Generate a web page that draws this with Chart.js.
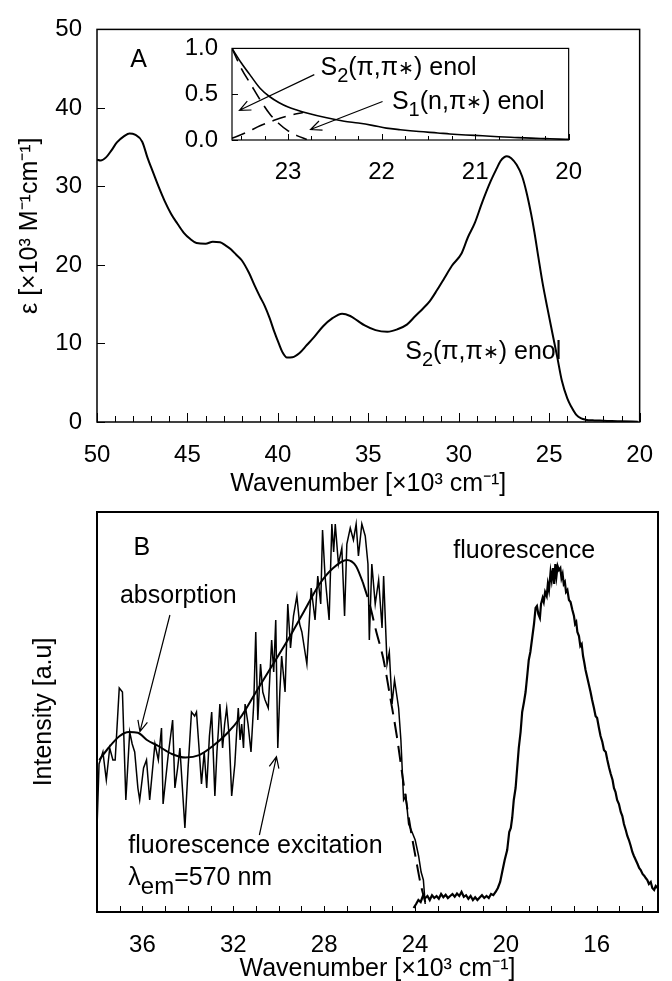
<!DOCTYPE html>
<html>
<head>
<meta charset="utf-8">
<script src="https://cdn.jsdelivr.net/npm/chart.js@4.4.1/dist/chart.umd.min.js"></script>
<style>
  html, body { margin: 0; padding: 0; background: #fff; overflow: hidden; }
  #wrap { position: relative; width: 672px; height: 981px; }
  canvas { position: absolute; }
</style>
</head>
<body>
<div id="wrap">
  <canvas id="specA" width="672" height="500" style="left:0;top:0"></canvas>
  <canvas id="inset" width="450" height="180" style="left:150px;top:20px"></canvas>
  <canvas id="specB" width="672" height="490" style="left:0;top:500px"></canvas>
</div>
<script>
// ---- panel A: extinction coefficient (x = wavenumber /1000 cm-1, y = eps /1000) ----
const epsA = [
  [50.0, 33.4], [49.8, 33.3], [49.5, 33.7], [49.2, 34.6], [48.9, 35.6], [48.5, 36.4],
  [48.2, 36.75], [47.9, 36.6], [47.5, 35.7], [47.2, 33.6], [47.0, 32.4], [46.6, 30.0],
  [46.27, 28.2], [45.9, 26.5], [45.55, 25.25], [45.2, 24.1], [44.84, 23.3], [44.5, 22.8],
  [44.0, 22.7], [43.6, 22.95], [43.2, 22.9], [42.9, 22.5], [42.6, 22.0], [42.3, 21.3],
  [42.0, 20.6], [41.6, 19.0], [41.27, 17.3], [41.0, 16.0], [40.73, 14.8], [40.45, 13.2],
  [40.2, 11.5], [39.95, 10.0], [39.75, 8.9], [39.5, 8.2], [39.2, 8.25], [38.8, 8.8],
  [38.4, 9.8], [38.0, 10.8], [37.5, 12.2], [37.0, 13.2], [36.45, 13.8], [36.0, 13.5],
  [35.6, 12.9], [35.2, 12.3], [34.6, 11.7], [33.95, 11.5], [33.4, 11.8], [32.87, 12.4],
  [32.4, 13.5], [32.0, 14.4], [31.6, 15.4], [31.2, 16.8], [30.8, 18.3], [30.38, 19.9],
  [29.84, 21.5], [29.5, 23.5], [29.13, 25.25], [28.7, 28.0], [28.23, 30.7], [27.9, 32.3],
  [27.7, 33.2], [27.5, 33.7], [27.34, 33.85], [27.1, 33.6], [26.8, 32.75], [26.5, 31.3],
  [26.27, 29.4], [26.0, 26.5], [25.82, 24.2], [25.6, 21.0], [25.37, 17.75], [25.1, 14.5],
  [24.84, 11.5], [24.55, 8.2], [24.3, 5.25], [24.0, 3.0], [23.77, 1.9], [23.5, 0.9],
  [23.23, 0.45], [23.0, 0.3], [22.5, 0.2], [22.0, 0.17], [21.0, 0.08], [20.1, 0.04]
];
const xLabelsA = [50, 45, 40, 35, 30, 25, 20];

// ---- inset: band edge decomposition (normalised) ----
const insetTotal = [
  [23.6, 1.0], [23.5, 0.84], [23.4, 0.70], [23.3, 0.565], [23.2, 0.475], [23.1, 0.41],
  [23.0, 0.36], [22.9, 0.325], [22.8, 0.295], [22.6, 0.245], [22.4, 0.205], [22.25, 0.185],
  [22.1, 0.16], [21.95, 0.13], [21.8, 0.112], [21.6, 0.092], [21.4, 0.077], [21.27, 0.066],
  [21.1, 0.055], [20.92, 0.046], [20.75, 0.036], [20.58, 0.028], [20.4, 0.02], [20.25, 0.015],
  [20.1, 0.01], [20.0, 0.008]
];
const insetS2 = [
  [23.6, 1.0], [23.5, 0.78], [23.4, 0.61], [23.3, 0.44], [23.2, 0.29], [23.1, 0.18],
  [23.0, 0.10], [22.9, 0.045], [22.8, 0.005]
];
const insetS1 = [
  [23.6, 0.02], [23.45, 0.08], [23.3, 0.155], [23.15, 0.215], [23.0, 0.265], [22.84, 0.30]
];
const xLabelsInset = [23, 22, 21, 20];

// ---- panel B: excitation / absorption / emission (arbitrary units) ----
const excitation = [
  [38.0, 0.21], [37.91, 0.37], [37.74, 0.40], [37.59, 0.33], [37.44, 0.41], [37.30, 0.38],
  [37.20, 0.38], [37.02, 0.56], [36.88, 0.55], [36.73, 0.28], [36.56, 0.45], [36.45, 0.42],
  [36.34, 0.40], [36.20, 0.31], [36.12, 0.28], [35.95, 0.36], [35.82, 0.38], [35.68, 0.28],
  [35.45, 0.42], [35.30, 0.38], [35.16, 0.46], [35.09, 0.27], [34.87, 0.39], [34.67, 0.48],
  [34.57, 0.31], [34.45, 0.36], [34.35, 0.41], [34.13, 0.21], [33.99, 0.36], [33.84, 0.50],
  [33.70, 0.49], [33.62, 0.50], [33.52, 0.42], [33.40, 0.32], [33.28, 0.40], [33.17, 0.31],
  [33.05, 0.44], [32.95, 0.50], [32.81, 0.29], [32.72, 0.40], [32.66, 0.45], [32.59, 0.52],
  [32.47, 0.41], [32.38, 0.47], [32.29, 0.51], [32.18, 0.44], [32.07, 0.29], [31.93, 0.37],
  [31.85, 0.45], [31.78, 0.51], [31.70, 0.43], [31.63, 0.47], [31.55, 0.41], [31.48, 0.52],
  [31.35, 0.47], [31.22, 0.40], [31.10, 0.52], [31.01, 0.70], [30.92, 0.48], [30.80, 0.62],
  [30.70, 0.55], [30.60, 0.53], [30.46, 0.51], [30.31, 0.68], [30.22, 0.60], [30.13, 0.73],
  [30.04, 0.41], [29.95, 0.55], [29.87, 0.64], [29.72, 0.55], [29.60, 0.77], [29.48, 0.66],
  [29.35, 0.74], [29.20, 0.79], [29.08, 0.72], [28.98, 0.70], [28.76, 0.62], [28.57, 0.81],
  [28.40, 0.73], [28.28, 0.84], [28.15, 0.77], [28.07, 0.955], [27.96, 0.84], [27.78, 0.73],
  [27.66, 0.97], [27.58, 0.90], [27.51, 0.97], [27.37, 0.87], [27.22, 0.91], [27.10, 0.74],
  [27.00, 0.92], [26.85, 0.96], [26.71, 0.93], [26.59, 0.97], [26.49, 0.89], [26.34, 0.97],
  [26.19, 0.94], [26.07, 0.87], [26.01, 0.68], [25.90, 0.87], [25.75, 0.77], [25.60, 0.83],
  [25.45, 0.71], [25.38, 0.84], [25.23, 0.62], [25.13, 0.65], [25.01, 0.52], [24.90, 0.58],
  [24.72, 0.51], [24.62, 0.43], [24.50, 0.28], [24.40, 0.29], [24.28, 0.22], [24.13, 0.20],
  [23.99, 0.18], [23.84, 0.14], [23.73, 0.10], [23.63, 0.08], [23.55, 0.02]
];
const absorptionSolid = [
  [37.9, 0.38], [37.5, 0.41], [37.0, 0.44], [36.6, 0.45], [36.2, 0.448], [35.8, 0.43],
  [35.3, 0.415], [34.7, 0.395], [34.1, 0.386], [33.5, 0.392], [32.9, 0.415], [32.3, 0.445],
  [31.7, 0.485], [31.0, 0.55], [30.3, 0.615], [29.6, 0.68], [28.9, 0.75], [28.2, 0.82],
  [27.6, 0.86], [27.0, 0.88], [26.6, 0.865], [26.3, 0.825]
];
const absorptionDashed = [
  [26.3, 0.825], [26.0, 0.77], [25.7, 0.70], [25.4, 0.635], [25.1, 0.54], [24.8, 0.44],
  [24.5, 0.32], [24.2, 0.21], [23.95, 0.13], [23.75, 0.07], [23.55, 0.025]
];
const fluorescence = [
  [24.06, 0.01], [23.95, 0.02], [23.85, 0.03], [23.75, 0.025], [23.65, 0.04], [23.55, 0.035],
  [23.45, 0.04], [23.35, 0.03], [23.25, 0.042], [23.15, 0.035], [23.05, 0.04], [22.95, 0.033],
  [22.85, 0.045], [22.75, 0.037], [22.65, 0.043], [22.55, 0.035], [22.45, 0.04], [22.35, 0.045],
  [22.25, 0.038], [22.15, 0.046], [22.05, 0.04], [21.95, 0.05], [21.85, 0.038], [21.75, 0.042],
  [21.65, 0.033], [21.55, 0.04], [21.45, 0.03], [21.35, 0.037], [21.25, 0.03], [21.15, 0.036],
  [21.05, 0.042], [20.95, 0.035], [20.85, 0.04], [20.75, 0.035], [20.65, 0.045], [20.55, 0.042],
  [20.45, 0.05], [20.35, 0.06], [20.25, 0.075], [20.16, 0.10], [20.05, 0.13], [19.94, 0.155],
  [19.85, 0.20], [19.78, 0.21], [19.72, 0.235], [19.65, 0.28], [19.57, 0.31], [19.5, 0.36],
  [19.43, 0.41], [19.35, 0.45], [19.28, 0.50], [19.2, 0.525], [19.13, 0.55], [19.05, 0.595],
  [18.99, 0.63], [18.92, 0.65], [18.84, 0.685], [18.76, 0.72], [18.69, 0.76], [18.63, 0.765],
  [18.57, 0.745], [18.5, 0.735], [18.45, 0.77], [18.38, 0.785], [18.33, 0.775], [18.27, 0.8],
  [18.2, 0.79], [18.15, 0.82], [18.1, 0.805], [18.03, 0.85], [17.98, 0.83], [17.92, 0.86],
  [17.87, 0.82], [17.82, 0.87], [17.77, 0.84], [17.72, 0.865], [17.66, 0.855], [17.6, 0.86],
  [17.55, 0.835], [17.5, 0.845], [17.45, 0.82], [17.4, 0.825], [17.35, 0.8], [17.29, 0.805],
  [17.22, 0.78], [17.15, 0.775], [17.07, 0.755], [17.0, 0.74], [16.95, 0.72], [16.9, 0.725],
  [16.85, 0.7], [16.78, 0.69], [16.72, 0.665], [16.66, 0.67], [16.6, 0.64], [16.55, 0.625],
  [16.49, 0.605], [16.43, 0.59], [16.35, 0.57], [16.27, 0.55], [16.2, 0.53], [16.12, 0.51],
  [16.05, 0.49], [15.98, 0.485], [15.9, 0.46], [15.83, 0.44], [15.75, 0.425], [15.68, 0.405],
  [15.6, 0.4], [15.53, 0.38], [15.45, 0.36], [15.38, 0.345], [15.3, 0.33], [15.24, 0.31],
  [15.17, 0.3], [15.1, 0.28], [15.02, 0.27], [14.94, 0.25], [14.87, 0.24], [14.8, 0.22],
  [14.72, 0.205], [14.65, 0.19], [14.58, 0.18], [14.5, 0.165], [14.43, 0.15], [14.36, 0.14],
  [14.28, 0.13], [14.2, 0.12], [14.13, 0.11], [14.06, 0.105], [13.98, 0.095], [13.9, 0.09],
  [13.84, 0.085], [13.77, 0.08], [13.7, 0.07], [13.62, 0.075], [13.55, 0.06], [13.47, 0.055],
  [13.4, 0.065], [13.32, 0.06]
];
const xLabelsB = [36, 32, 28, 24, 20, 16];

const FONT = '"Liberation Sans", Arial, Helvetica, sans-serif';
const NOTE = 25;   // annotation text size
Chart.defaults.font.family = FONT;
Chart.defaults.font.size = 24;
Chart.defaults.color = '#000';

const pts = arr => arr.map(([x, y]) => ({ x, y }));

function line(data, extra) {
  return Object.assign({
    data: pts(data), borderColor: '#000', borderWidth: 2,
    pointRadius: 0, fill: false, tension: 0
  }, extra);
}

// open "V" arrow from tail to tip
function arrow(ctx, x1, y1, x2, y2) {
  const ang = Math.atan2(y2 - y1, x2 - x1);
  const h = 12, spread = 0.42;
  ctx.beginPath();
  ctx.moveTo(x1, y1);
  ctx.lineTo(x2, y2);
  ctx.moveTo(x2 - h * Math.cos(ang - spread), y2 - h * Math.sin(ang - spread));
  ctx.lineTo(x2, y2);
  ctx.lineTo(x2 - h * Math.cos(ang + spread), y2 - h * Math.sin(ang + spread));
  ctx.stroke();
}

// text run made of pieces [text, scale, drop]; drop > 0 lowers a piece (subscripts)
function richText(ctx, x, y, parts, size) {
  let cx = x;
  ctx.textAlign = 'left';
  ctx.textBaseline = 'alphabetic';
  parts.forEach(([t, scale = 1, drop = 0]) => {
    ctx.font = Math.round(size * scale) + 'px ' + FONT;
    ctx.fillText(t, cx, y + drop);
    cx += ctx.measureText(t).width;
  });
}

// S_n(x,π*) enol label pieces
const stateLabel = (n, first) => [
  ['S'], [n, 0.78, 7], ['(' + first + ',π'], ['∗', 0.75, -1], [') enol']
];

// frame around the plot area plus inward tick marks
const boxTicks = {
  id: 'boxTicks',
  afterDatasetsDraw(chart, args, o) {
    const { ctx, chartArea: a, scales: { x, y } } = chart;
    ctx.save();
    ctx.strokeStyle = '#000';
    ctx.lineWidth = 1;
    ctx.beginPath();
    x.ticks.forEach(t => {
      const px = Math.round(x.getPixelForValue(t.value)) + 0.5;
      const len = t.label !== '' ? o.xMajor : o.xMinor;
      ctx.moveTo(px, a.bottom);
      ctx.lineTo(px, a.bottom - len);
    });
    if (o.yLen) {
      y.ticks.forEach(t => {
        const py = Math.round(y.getPixelForValue(t.value)) + 0.5;
        ctx.moveTo(a.left, py);
        ctx.lineTo(a.left + o.yLen, py);
      });
    }
    ctx.stroke();
    ctx.lineWidth = o.frame;
    ctx.strokeRect(a.left, a.top, a.right - a.left, a.bottom - a.top);
    ctx.restore();
  }
};

function xAxis(min, max, step, labels, height, pad, title, titlePad) {
  return {
    type: 'linear', reverse: true, min, max,
    afterFit: s => { s.height = height; },
    grid: { display: false, drawTicks: false },
    border: { display: false },
    ticks: {
      stepSize: step, autoSkip: false, maxRotation: 0, minRotation: 0,
      includeBounds: false, padding: pad,
      callback: v => labels.includes(v) ? String(v) : ''
    },
    title: {
      display: !!title, text: title, font: { size: 25 },
      padding: { top: 0, bottom: titlePad }
    }
  };
}

const baseOpts = {
  responsive: false,
  animation: false,
  devicePixelRatio: 1,
  events: []
};

// panel A
new Chart(document.getElementById('specA'), {
  type: 'line',
  data: { datasets: [line(epsA, { cubicInterpolationMode: 'monotone' })] },
  options: Object.assign({}, baseOpts, {
    layout: { padding: { top: 22, right: 16, left: 0, bottom: 0 } },
    plugins: {
      legend: { display: false }, tooltip: { enabled: false },
      boxTicks: { frame: 1.5, xMajor: 9, xMinor: 6, yLen: 8 }
    },
    scales: {
      x: xAxis(20, 50, 1, xLabelsA, 78, 19, 'Wavenumber [×10³ cm⁻¹]', 1),
      y: {
        min: 0, max: 50,
        afterFit: s => { s.width = 97; },
        grid: { display: false, drawTicks: false },
        border: { display: false },
        ticks: { stepSize: 10, padding: 15 },
        title: {
          display: true, text: 'ε [×10³ M⁻¹cm⁻¹]', font: { size: 25 },
          padding: { top: 15, bottom: 0 }
        }
      }
    }
  }),
  plugins: [boxTicks, {
    id: 'notesA',
    afterDraw(chart) {
      const { ctx, scales: { x, y } } = chart;
      ctx.save();
      ctx.fillStyle = '#000';
      ctx.font = NOTE + 'px ' + FONT;
      ctx.textAlign = 'center';
      ctx.textBaseline = 'alphabetic';
      ctx.fillText('A', x.getPixelForValue(47.7), y.getPixelForValue(45.25));
      richText(ctx, x.getPixelForValue(32.96), y.getPixelForValue(8.04), stateLabel('2', 'π'), NOTE);
      ctx.restore();
    }
  }]
});

// inset of panel A
new Chart(document.getElementById('inset'), {
  type: 'line',
  data: {
    datasets: [
      line(insetTotal, { cubicInterpolationMode: 'monotone', borderWidth: 1.6 }),
      line(insetS2, { cubicInterpolationMode: 'monotone', borderWidth: 1.6, borderDash: [14, 8] }),
      line(insetS1, { cubicInterpolationMode: 'monotone', borderWidth: 1.6, borderDash: [14, 8] })
    ]
  },
  options: Object.assign({}, baseOpts, {
    layout: { padding: { top: 17, right: 14, left: 0, bottom: 0 } },
    plugins: {
      legend: { display: false }, tooltip: { enabled: false },
      boxTicks: { frame: 1.2, xMajor: 6, xMinor: 4, yLen: 6 }
    },
    scales: {
      x: xAxis(20, 23.6, 0.25, xLabelsInset, 60, 18, '', 0),
      y: {
        min: 0, max: 1,
        afterFit: s => { s.width = 82; },
        grid: { display: false, drawTicks: false },
        border: { display: false },
        ticks: { stepSize: 0.5, padding: 14, callback: v => v.toFixed(1) }
      }
    }
  }),
  plugins: [boxTicks, {
    id: 'notesInset',
    afterDraw(chart) {
      const { ctx, scales: { x, y } } = chart;
      const X = v => x.getPixelForValue(v), Y = v => y.getPixelForValue(v);
      ctx.save();
      ctx.fillStyle = '#000';
      ctx.strokeStyle = '#000';
      ctx.lineWidth = 1.2;
      richText(ctx, X(22.654), Y(0.708), stateLabel('2', 'π'), NOTE);
      richText(ctx, X(21.89), Y(0.341), stateLabel('1', 'n'), NOTE);
      arrow(ctx, X(22.72), Y(0.714), X(23.52), Y(0.324));
      arrow(ctx, X(21.99), Y(0.42), X(22.76), Y(0.114));
      ctx.restore();
    }
  }]
});

// panel B
new Chart(document.getElementById('specB'), {
  type: 'line',
  data: {
    datasets: [
      line(excitation, { borderWidth: 1.5 }),
      line(absorptionSolid, { cubicInterpolationMode: 'monotone' }),
      line(absorptionDashed, { cubicInterpolationMode: 'monotone', borderDash: [16, 8] }),
      line(fluorescence, { borderWidth: 2.2 })
    ]
  },
  options: Object.assign({}, baseOpts, {
    layout: { padding: { top: 12, right: 14, left: 0, bottom: 0 } },
    plugins: {
      legend: { display: false }, tooltip: { enabled: false },
      boxTicks: { frame: 2, xMajor: 6, xMinor: 6, yLen: 0 }
    },
    scales: {
      x: xAxis(13.3, 38, 1, xLabelsB, 78, 19, 'Wavenumber [×10³ cm⁻¹]', 6),
      y: {
        min: 0, max: 1,
        afterFit: s => { s.width = 97; },
        grid: { display: false, drawTicks: false },
        border: { display: false },
        ticks: { display: false },
        title: {
          display: true, text: 'Intensity [a.u]', font: { size: 25 },
          padding: { top: 29, bottom: 0 }
        }
      }
    }
  }),
  plugins: [boxTicks, {
    id: 'notesB',
    afterDraw(chart) {
      const { ctx, scales: { x, y } } = chart;
      const X = v => x.getPixelForValue(v), Y = v => y.getPixelForValue(v);
      ctx.save();
      ctx.fillStyle = '#000';
      ctx.strokeStyle = '#000';
      ctx.lineWidth = 1.2;
      ctx.font = NOTE + 'px ' + FONT;
      ctx.textAlign = 'center';
      ctx.textBaseline = 'alphabetic';
      ctx.fillText('B', X(36.03), Y(0.8925));
      richText(ctx, X(36.99), Y(0.7725), [['absorption']], NOTE);
      richText(ctx, X(22.31), Y(0.885), [['fluorescence']], NOTE);
      richText(ctx, X(36.62), Y(0.1475), [['fluorescence excitation']], NOTE);
      richText(ctx, X(36.62), Y(0.0675), [['λ'], ['em', 0.95, 9], ['=570 nm']], NOTE);
      arrow(ctx, X(34.79), Y(0.7425), X(36.11), Y(0.4508));
      arrow(ctx, X(30.85), Y(0.1925), X(30.10), Y(0.388));
      ctx.restore();
    }
  }]
});
</script>
</body>
</html>
